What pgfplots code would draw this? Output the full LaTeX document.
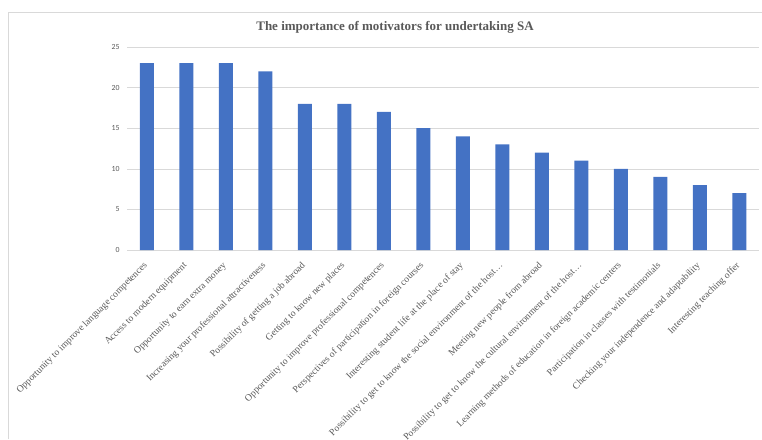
\documentclass[border=0pt]{standalone}
\usepackage{fontspec}
\setmainfont{Liberation Serif}
\newfontfamily\calibri{Carlito}
\usepackage{pgfplots}
\pgfplotsset{compat=1.18}
\definecolor{barblue}{HTML}{4472C4}
\definecolor{txtgray}{HTML}{595959}
\definecolor{gridgray}{HTML}{D9D9D9}
\begin{document}
\begin{tikzpicture}
\path[use as bounding box] (0pt,-439pt) rectangle (762pt,0pt);
\draw[gridgray, line width=0.8pt] (8pt,-439pt) -- (8pt,-12pt) -- (762pt,-12pt);
\node[font=\bfseries\fontsize{13}{15}\selectfont, text=txtgray] at (395pt,-27pt) {The importance of motivators for undertaking SA};
\begin{axis}[
  at={(127pt,-250pt)}, anchor=south west,
  scale only axis, width=632pt, height=203pt,
  xmin=-0.5, xmax=15.5, ymin=0, ymax=25,
  ytick={0,5,...,25},
  xtick={0,...,15},
  xticklabels={
    Opportunity to improve language competences,
    Access to modern equipment,
    Opportunity to earn extra money,
    Increasing your professional attractiveness,
    Possibility of getting a job abroad,
    Getting to know new places,
    Opportunity to improve professional competences,
    Perspectives of participation in foreign courses,
    Interesting student life at the place of stay,
    Possibility to get to know the social environment of the host\ldots,
    Meeting new people from abroad,
    Possibility to get to know the cultural environment of the host\ldots,
    Learning methods of education in foreign academic centers,
    Participation in classes with testimonials,
    Checking your independence and adaptability,
    Interesting teaching offer},
  xticklabel style={xshift=0pt, yshift=-13.5pt, rotate=45, anchor=east, font=\fontsize{9.6}{10}\selectfont, text=txtgray, inner sep=1pt},
  yticklabel style={font=\calibri\fontsize{7.8}{9}\selectfont, text=txtgray, xshift=-4pt},
  /pgf/number format/assume math mode=true,
  ymajorgrids, grid style={gridgray, line width=0.6pt},
  axis x line*=bottom, axis y line*=left,
  x axis line style={gridgray, line width=0.6pt, -},
  y axis line style={draw=none},
  major tick length=0pt,
  ybar, bar width=14pt,
]
\addplot[fill=barblue, draw=none] coordinates {
(0,23) (1,23) (2,23) (3,22) (4,18) (5,18) (6,17) (7,15)
(8,14) (9,13) (10,12) (11,11) (12,10) (13,9) (14,8) (15,7)};
\end{axis}
\end{tikzpicture}
\end{document}
